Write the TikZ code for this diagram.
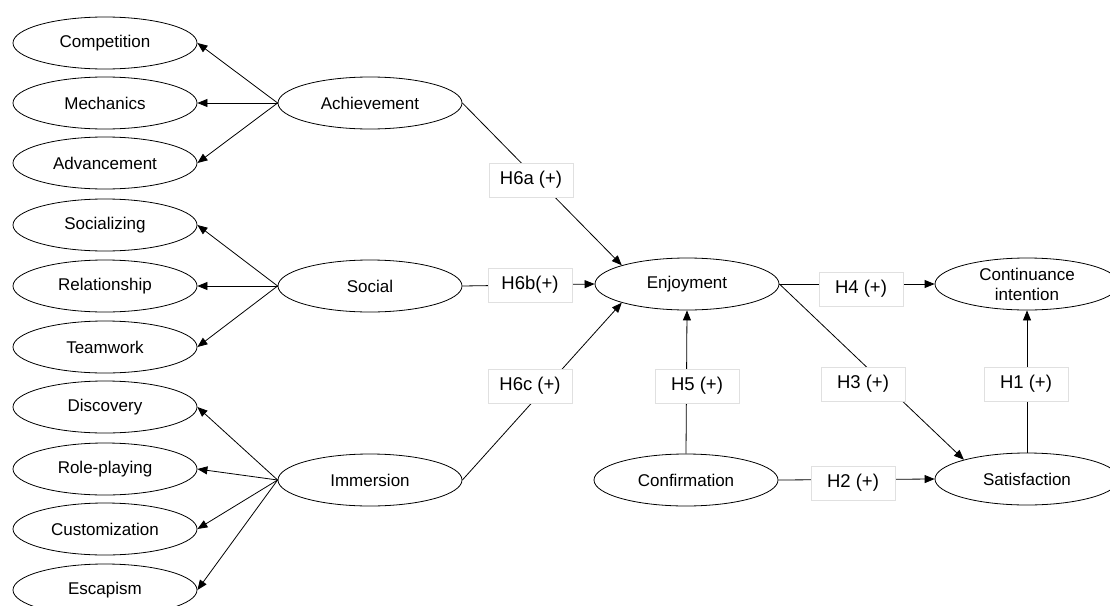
\documentclass[tikz,border=0pt]{standalone}
\usepackage{fontspec}
\setmainfont{Liberation Sans}
\usetikzlibrary{shapes.geometric,arrows.meta}

\tikzset{
    construct/.style={draw, ellipse, line width=0.8pt, minimum width=184pt, minimum height=52pt,
        inner sep=0pt, align=center, font=\fontsize{17}{20}\selectfont},
    hyplabel/.style={draw=black!12, fill=white, line width=0.6pt, minimum width=84pt, minimum height=34pt,
        inner sep=0pt, font=\fontsize{18.5}{22}\selectfont},
    path/.style={line width=0.8pt, -{Triangle[length=10pt,width=8pt]}},
    line/.style={line width=0.8pt}
}

\begin{document}
\begin{tikzpicture}[x=1pt, y=-1pt]
    \useasboundingbox (0,0) rectangle (1110,605);

    % first-order constructs
    \node[construct] (ach) at (370,103) {Achievement};
    \node[construct] (soc) at (370,286) {Social};
    \node[construct] (imm) at (370,480) {Immersion};

    % sub-dimensions
    \node[construct] (comp) at (105,43)  {Competition};
    \node[construct] (mech) at (105,103) {Mechanics};
    \node[construct] (adv)  at (105,163) {Advancement};
    \node[construct] (sclz) at (105,225) {Socializing};
    \node[construct] (rel)  at (105,286) {Relationship};
    \node[construct] (team) at (105,347) {Teamwork};
    \node[construct] (disc) at (105,407) {Discovery};
    \node[construct] (role) at (105,469) {Role-playing};
    \node[construct] (cust) at (105,529) {Customization};
    \node[construct] (esc)  at (105,590) {Escapism};

    \foreach \sub in {comp,mech,adv}  \draw[path] (ach.west) -- (\sub.east);
    \foreach \sub in {sclz,rel,team}  \draw[path] (soc.west) -- (\sub.east);
    \foreach \sub in {disc,role,cust,esc} \draw[path] (imm.west) -- (\sub.east);

    % expectation-confirmation part
    \node[construct] (enj)  at (687,284) {Enjoyment};
    \node[construct] (conf) at (686,480) {Confirmation};
    \node[construct] (sat)  at (1027,479) {Satisfaction};
    \node[construct] (cont) at (1027,284) {Continuance\\intention};

    \draw[path] (ach.east) -- (enj.164);
    \draw[path] (soc.east) -- (enj.west);
    \draw[path] (imm.east) -- (enj.196);
    \draw[path] (conf.north) -- (enj.south);
    \draw[path] (enj.east) -- (cont.west);
    \draw[path] (enj.east) -- (sat.163);
    \draw[path] (conf.east) -- (sat.west);
    \draw[path] (sat.north) -- (cont.south);

    % hypotheses
    \node[hyplabel] (h6a) at (531,180) {H6a (+)};
    \node[hyplabel] (h6b) at (530,285) {H6b(+)};
    \node[hyplabel] (h6c) at (530,386) {H6c (+)};
    \node[hyplabel] (h5)  at (697,386) {H5 (+)};
    \node[hyplabel] (h4)  at (861,289) {H4 (+)};
    \node[hyplabel] (h3)  at (863,384) {H3 (+)};
    \node[hyplabel] (h1)  at (1026,384) {H1 (+)};
    \node[hyplabel] (h2)  at (853,483) {H2 (+)};

\end{tikzpicture}
\end{document}
